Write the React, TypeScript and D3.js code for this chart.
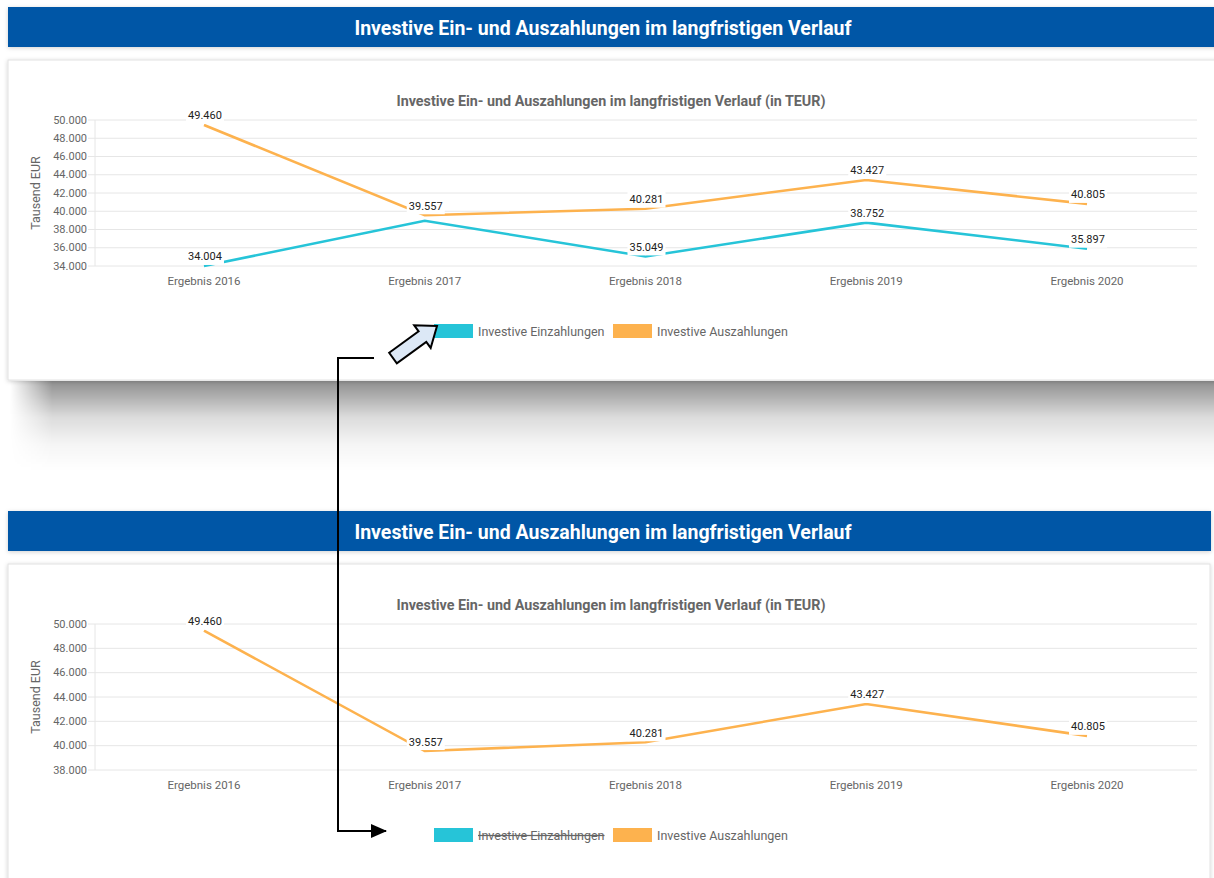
import React from 'react';
import * as d3 from 'd3';

// chart data (TEUR)
const categories = ['Ergebnis 2016', 'Ergebnis 2017', 'Ergebnis 2018', 'Ergebnis 2019', 'Ergebnis 2020'];
const einzahlungen = [34004, 38960, 35049, 38752, 35897];
const auszahlungen = [49460, 39557, 40281, 43427, 40805];
const seriesNames = ['Investive Einzahlungen', 'Investive Auszahlungen'];
const seriesColors = ['#26c4d8', '#fdb24e'];

const headerTitle = 'Investive Ein- und Auszahlungen im langfristigen Verlauf';
const chartTitle = 'Investive Ein- und Auszahlungen im langfristigen Verlauf (in TEUR)';
const yAxisTitle = 'Tausend EUR';

// two screenshots: all series visible, then the first one switched off in the legend
const panels = [
    { offset: 0, yDomain: [34000, 50000], hidden: [false, false], cardRight: 1220, headerRight: 1220, cardBottom: 380 },
    { offset: 504, yDomain: [38000, 50000], hidden: [true, false], cardRight: 1210, headerRight: 1211, cardBottom: 900 },
];

const de = d3.formatLocale({ decimal: ',', thousands: '.', grouping: [3], currency: ['', ' €'] });
const fmt = de.format(',d');

const FONT = 'Roboto, "Open Sans", sans-serif';

const Panel = ({ offset, yDomain, hidden, cardRight, headerRight, cardBottom }) => {
    const x = d3.scaleBand().domain(categories).range([93.6, 1197.4]);
    const cx = (c) => x(c) + x.bandwidth() / 2;
    const y = d3.scaleLinear().domain(yDomain).range([266 + offset, 120 + offset]);
    const ticks = d3.range(yDomain[0], yDomain[1] + 1, 2000);
    const all = [einzahlungen, auszahlungen];

    const line = (vals) => d3.line()
        .x((d, i) => cx(categories[i]))
        .y(d => y(d))(vals);

    // data labels, the later series wins when boxes collide
    const labels = [];
    [1, 0].forEach(si => {
        if (hidden[si]) return;
        all[si].forEach((v, i) => {
            const lx = cx(categories[i]) + 1;
            const ly = y(v) - 9;
            const box = { x0: lx - 19, x1: lx + 19, y0: ly - 8, y1: ly + 8 };
            const hit = labels.some(b => b.x0 < box.x1 && box.x0 < b.x1 && b.y0 < box.y1 && box.y0 < b.y1);
            if (!hit) labels.push({ ...box, lx, ly, text: fmt(v) });
        });
    });

    const legendItems = [
        { x: 434, textX: 478 },
        { x: 613, textX: 657 },
    ];

    return (
        <g>
            {/* header bar */}
            <rect x={8} y={7 + offset} width={headerRight - 8} height={40} fill="#0657a6" filter="url(#soft)" />
            <text x={603} y={28 + offset} textAnchor="middle" dominantBaseline="central"
                fill="#fff" fontFamily={FONT} fontWeight="bold" fontSize={19.3}
                textLength={497} lengthAdjust="spacingAndGlyphs">{headerTitle}</text>

            {/* card */}
            <rect x={8} y={60 + offset} width={cardRight - 8} height={cardBottom - 60 - offset}
                fill="#fff" stroke="#e2e2e2" filter="url(#soft)" />

            <text x={611} y={101 + offset} textAnchor="middle" dominantBaseline="central"
                fill="#666" fontFamily={FONT} fontWeight="bold" fontSize={14}
                textLength={429} lengthAdjust="spacingAndGlyphs">{chartTitle}</text>

            {/* grid + y axis */}
            {ticks.map(t => (
                <g key={t}>
                    <line x1={88} x2={1197} y1={y(t)} y2={y(t)} stroke="#e6e6e6" />
                    <text x={87} y={y(t)} textAnchor="end" dominantBaseline="central"
                        fill="#666" fontFamily={FONT} fontSize={11}>{fmt(t)}</text>
                </g>
            ))}
            <line x1={95} x2={95} y1={y.range()[1]} y2={y.range()[0]} stroke="#e6e6e6" />
            <text transform={`translate(35,${193 + offset}) rotate(-90)`} textAnchor="middle" dominantBaseline="central"
                fill="#666" fontFamily={FONT} fontSize={12.5}>{yAxisTitle}</text>

            {/* x labels */}
            {categories.map(c => (
                <text key={c} x={cx(c)} y={281 + offset} textAnchor="middle" dominantBaseline="central"
                    fill="#666" fontFamily={FONT} fontSize={11.5}>{c}</text>
            ))}

            {/* lines */}
            {all.map((vals, si) => hidden[si] ? null : (
                <path key={si} d={line(vals)} fill="none" stroke={seriesColors[si]} strokeWidth={2.6} />
            ))}

            {/* value labels */}
            {labels.map((l, i) => (
                <g key={i}>
                    <rect x={l.x0} y={l.y0} width={l.x1 - l.x0} height={l.y1 - l.y0} fill="#fff" />
                    <text x={l.lx} y={l.ly} textAnchor="middle" dominantBaseline="central"
                        fill="#222" fontFamily={FONT} fontSize={11}>{l.text}</text>
                </g>
            ))}

            {/* legend */}
            {legendItems.map((it, si) => (
                <g key={si}>
                    <rect x={it.x} y={324 + offset} width={39} height={14} fill={seriesColors[si]} />
                    <text x={it.textX} y={331 + offset} dominantBaseline="central"
                        fill="#666" fontFamily={FONT} fontSize={12.5}
                        textDecoration={hidden[si] ? 'line-through' : undefined}>{seriesNames[si]}</text>
                </g>
            ))}
        </g>
    );
};

const App = () => {
    // hollow block arrow pointing at the legend item
    const tail = [393, 358];
    const tip = [437, 326];
    const len = Math.hypot(tip[0] - tail[0], tip[1] - tail[1]);
    const ang = Math.atan2(tip[1] - tail[1], tip[0] - tail[0]) * 180 / Math.PI;
    const hl = 18;
    const arrowPts = [[0, -6.5], [len - hl, -6.5], [len - hl, -14], [len, 0], [len - hl, 14], [len - hl, 6.5], [0, 6.5]]
        .map(p => p.join(',')).join(' ');

    return (
        <div style={{ position: 'absolute', left: 0, top: 0 }}>
            <svg width={1214} height={878} style={{ display: 'block', background: '#fff' }}>
                <defs>
                    <filter id="soft" x="-5%" y="-20%" width="110%" height="140%">
                        <feDropShadow dx="0" dy="1" stdDeviation="2" floodColor="#000" floodOpacity="0.18" />
                    </filter>
                    <linearGradient id="shadeV" x1="0" y1="0" x2="0" y2="1">
                        <stop offset="0" stopColor="#000" stopOpacity="0.44" />
                        <stop offset="0.15" stopColor="#000" stopOpacity="0.33" />
                        <stop offset="0.4" stopColor="#000" stopOpacity="0.14" />
                        <stop offset="0.7" stopColor="#000" stopOpacity="0.04" />
                        <stop offset="1" stopColor="#000" stopOpacity="0" />
                    </linearGradient>
                    <linearGradient id="fadeH" x1="0" y1="0" x2="1" y2="0">
                        <stop offset="0" stopColor="#fff" stopOpacity="0" />
                        <stop offset="0.035" stopColor="#fff" stopOpacity="1" />
                        <stop offset="1" stopColor="#fff" stopOpacity="1" />
                    </linearGradient>
                    <mask id="leftFade">
                        <rect x={10} y={380} width={1204} height={100} fill="url(#fadeH)" />
                    </mask>
                    <marker id="head" viewBox="0 0 16 14" refX="15" refY="7" markerWidth="16" markerHeight="14"
                        markerUnits="userSpaceOnUse" orient="auto">
                        <path d="M0,0 L16,7 L0,14 z" fill="#000" />
                    </marker>
                </defs>

                {/* heavy shadow under first card */}
                <rect x={10} y={381} width={1204} height={90} fill="url(#shadeV)" mask="url(#leftFade)" />

                {panels.map((p, i) => <Panel key={i} {...p} />)}

                {/* annotation connector */}
                <path d="M374,358 H338 V831 H386" fill="none" stroke="#000" strokeWidth={2} markerEnd="url(#head)" />
                <polygon points={arrowPts} transform={`translate(${tail[0]},${tail[1]}) rotate(${ang})`}
                    fill="#dce8f6" stroke="#000" strokeWidth={2} strokeLinejoin="miter" />
            </svg>
        </div>
    );
};

export default App;
